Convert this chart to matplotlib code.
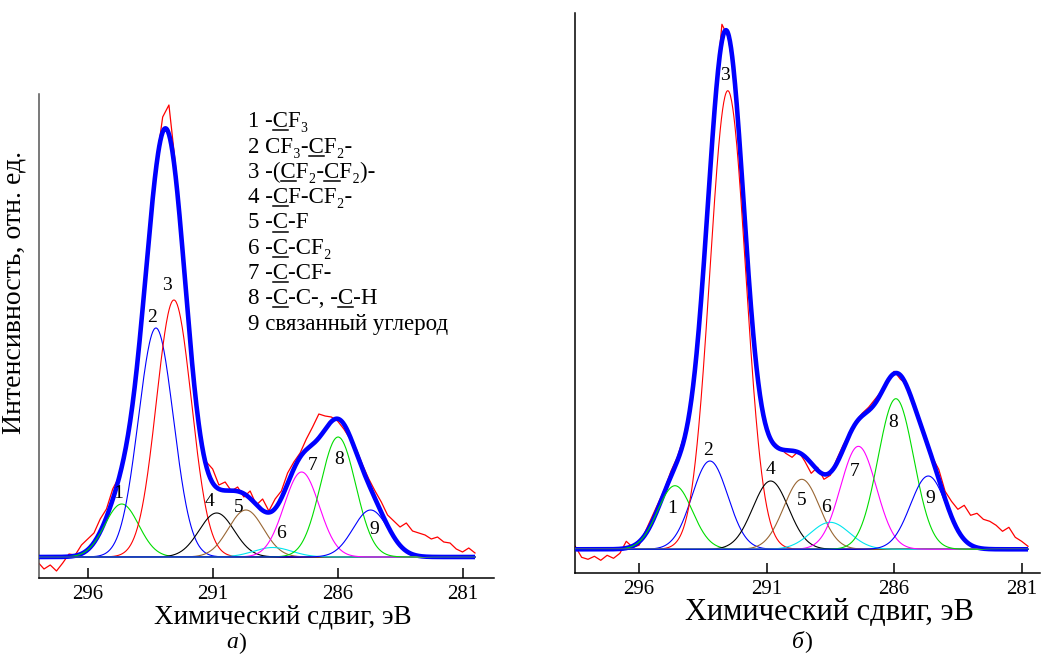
import numpy as np
import matplotlib.pyplot as plt
from matplotlib.lines import Line2D

plt.rcParams['font.family'] = ['Liberation Serif', 'DejaVu Serif']

# experimental C1s spectra, read every 0.25 eV (intensity in arb. units, baseline = 0)
step = 0.25
start_a = 298.0
exp_a = [-5, -12, -8, -14, -6, 3, 2, 12, 18, 24, 38, 48, 68, 80, 104, 140, 195, 265,
         335, 395, 440, 452, 395, 320, 240, 170, 118, 95, 88, 72, 75, 66, 70, 60, 66,
         52, 58, 46, 58, 66, 84, 95, 104, 118, 130, 143, 141, 140, 136, 128, 118, 108,
         92, 78, 66, 55, 42, 36, 30, 34, 26, 24, 22, 18, 20, 15, 14, 8, 5, 9, 4]
start_b = 298.5
exp_b = [3, -8, -10, -7, -11, -6, -9, -4, 8, 2, 4, 18, 32, 46, 60, 78, 92, 112, 142,
         195, 272, 365, 455, 525, 512, 470, 385, 290, 205, 150, 118, 108, 102, 96, 92,
         98, 88, 76, 82, 70, 74, 90, 104, 116, 128, 136, 142, 150, 158, 170, 178, 170,
         165, 148, 130, 112, 92, 80, 58, 48, 40, 44, 34, 36, 30, 28, 24, 18, 22, 12, 8, 3]

# fitted components 1..9: position (eV), height, FWHM (eV)
pos_a = [294.64, 293.27, 292.55, 290.84, 289.67, 288.60, 287.44, 285.98, 284.68]
amp_a = [53, 229, 257, 44, 47, 9.5, 85, 120, 47]
fwhm_a = [1.6, 1.65, 1.65, 1.65, 1.65, 1.8, 1.65, 1.65, 1.65]

pos_b = [294.59, 293.22, 292.52, 290.84, 289.62, 288.51, 287.40, 285.93, 284.66]
amp_b = [63.6, 88.3, 458.6, 68.3, 70, 27, 103, 150.6, 73.3]
fwhm_b = [1.6, 1.65, 1.65, 1.65, 1.65, 1.8, 1.65, 1.65, 1.65]

colors = ['#00dd00', '#0000ff', '#ff0000', '#000000', '#996633',
          '#00e5ee', '#ff00ff', '#00dd00', '#0000ff']

# peak number labels (eV, height)
lab_a = [(294.78, 64), (293.44, 240), (292.82, 272), (291.14, 55), (289.95, 49),
         (288.27, 23), (287.0, 92), (285.95, 98), (284.53, 28)]
lab_b = [(294.72, 41), (293.28, 99), (292.63, 474), (290.83, 80), (289.62, 49),
         (288.68, 42), (287.53, 78), (286.03, 127), (284.59, 51)]

# legend lines and positions of the underlined carbon atoms
legend_lines = ['1 -CF₃', '2 CF₃-CF₂-', '3 -(CF₂-CF₂)-', '4 -CF-CF₂-', '5 -C-F',
                '6 -C-CF₂', '7 -C-CF-', '8 -C-C-, -C-H', '9 связанный углерод']
underlined = [[3], [6], [4, 8], [3], [3], [3], [3], [3, 10], []]

W, H = 1041, 654
fig = plt.figure(figsize=(W / 100, H / 100), dpi=100)


def px_axes(x0, y0, x1, y1):
    return fig.add_axes([x0 / W, 1 - y1 / H, (x1 - x0) / W, (y1 - y0) / H])


def draw_panel(ax, start, exp, pos, amp, fwhm, labels, xlim, ylim, spine_col):
    e_exp = start - step * np.arange(len(exp))
    ax.plot(e_exp, exp, color='#ff0000', lw=0.9, zorder=2)
    e = np.linspace(e_exp[0], e_exp[-1], 800)
    total = np.zeros_like(e)
    comps = []
    for c, a, w in zip(pos, amp, fwhm):
        s = w / 2.3548
        g = a * np.exp(-(e - c) ** 2 / (2 * s * s))
        comps.append(g)
        total += g
    ax.plot(e, total, color='#0000ff', lw=3.3, zorder=3, solid_capstyle='butt')
    for g, col in zip(comps, colors):
        ax.plot(e, g, color=col, lw=0.8, zorder=4)
    for i, (xe, yh) in enumerate(labels):
        ax.text(xe, yh, str(i + 1), fontsize=14, ha='center', va='center', zorder=5)
    ax.set_xlim(*xlim)
    ax.set_ylim(*ylim)
    ax.set_xticks([296, 291, 286, 281])
    ax.set_yticks([])
    for side in ['top', 'right']:
        ax.spines[side].set_visible(False)
    ax.spines['left'].set_color(spine_col)
    ax.spines['left'].set_linewidth(1.1)
    ax.spines['bottom'].set_linewidth(1.1)
    ax.tick_params(axis='x', direction='in', length=7.2, width=1.1,
                   labelsize=15, pad=5)
    ax.patch.set_alpha(0)


ax_a = px_axes(39, 94, 494, 578)
draw_panel(ax_a, start_a, exp_a, pos_a, amp_a, fwhm_a, lab_a,
           (297.95, 279.74), (-21, 463), '#555555')
ax_b = px_axes(575, 12.7, 1040, 573.3)
draw_panel(ax_b, start_b, exp_b, pos_b, amp_b, fwhm_b, lab_b,
           (298.51, 280.28), (-24, 536.6), 'black')

# legend text with underlined C
renderer = fig.canvas.get_renderer()
leg_x, leg_size = 248.3, 16.5


def text_width(s):
    t = fig.text(0, 0, s, fontsize=leg_size)
    w = t.get_window_extent(renderer).width
    t.remove()
    return w


wC = text_width('C')
for i, line in enumerate(legend_lines):
    yb = 127.3 + 25.3 * i
    fig.text(leg_x / W, 1 - yb / H, line, fontsize=leg_size, va='baseline')
    for k in underlined[i]:
        right = leg_x + text_width(line[:k + 1])
        left = right - wC
        fig.add_artist(Line2D([left / W, right / W], [1 - (yb + 3) / H] * 2,
                              transform=fig.transFigure, color='black', lw=1.1))

fig.text(14 / W, 1 - 292 / H, 'Интенсивность, отн. ед.', rotation=90,
         ha='center', va='center', fontsize=20)
fig.text(282.7 / W, 1 - 617 / H, 'Химический сдвиг, эВ', ha='center', va='center', fontsize=19.5)
fig.text(829 / W, 1 - 612 / H, 'Химический сдвиг, эВ', ha='center', va='center', fontsize=22)

fig.text(238 / W, 1 - 643 / H, 'а', style='italic', ha='right', va='center', fontsize=17)
fig.text(238 / W, 1 - 643 / H, ')', ha='left', va='center', fontsize=17)
fig.text(804 / W, 1 - 642 / H, 'б', style='italic', ha='right', va='center', fontsize=17)
fig.text(804 / W, 1 - 642 / H, ')', ha='left', va='center', fontsize=17)

fig.savefig('out.png', dpi=100)
